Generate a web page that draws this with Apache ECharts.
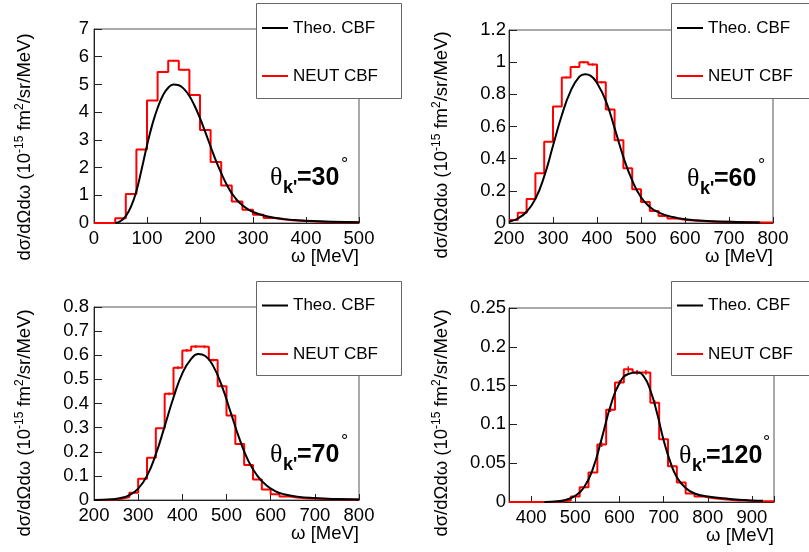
<!DOCTYPE html>
<html><head><meta charset="utf-8">
<script src="https://cdn.jsdelivr.net/npm/echarts@6/dist/echarts.min.js"></script>
<style>html,body{margin:0;padding:0;background:#fff}#c{width:809px;height:552px}</style>
</head><body><div id="c"></div>
<script>
// ---------------- DATA ----------------
const binWidth = 20;
const seriesNames = ['Theo. CBF', 'NEUT CBF'];
const angleLabels = ['30', '60', '70', '120'];

// Panel 1 : theta_k' = 30 deg
const p1BinStart = 0;
const p1Hist = [0, 0, 0.17, 1.05, 2.65, 4.42, 5.45, 5.85, 5.53, 4.62, 3.36, 2.2, 1.35, 0.78, 0.48, 0.3, 0.18, 0.13, 0.09, 0.07, 0.05, 0.04, 0.03, 0.025, 0.02];
const p1Err  = [0, 0, 0, 0, 0, 0, 0.03, 0.03, 0.03, 0.03, 0, 0, 0, 0, 0, 0, 0, 0, 0, 0, 0, 0, 0, 0, 0];
const p1TheoX = [40, 50, 60, 70, 80, 90, 100, 110, 120, 130, 140, 150, 160, 170, 180, 190, 200, 210, 220, 230, 240, 250, 260, 270, 280, 290, 300, 320, 340, 360, 380, 400, 450, 500];
const p1TheoY = [0, 0.07, 0.25, 0.6, 1.15, 1.95, 2.8, 3.55, 4.15, 4.6, 4.88, 5.0, 4.97, 4.83, 4.58, 4.22, 3.78, 3.28, 2.76, 2.25, 1.8, 1.4, 1.07, 0.82, 0.64, 0.5, 0.4, 0.27, 0.19, 0.14, 0.105, 0.08, 0.045, 0.025];

// Panel 2 : theta_k' = 60 deg
const p2BinStart = 200;
const p2Hist = [0.018, 0.063, 0.15, 0.31, 0.505, 0.725, 0.905, 0.97, 1.0, 0.985, 0.875, 0.705, 0.515, 0.34, 0.21, 0.13, 0.075, 0.043, 0.028, 0.02, 0.015, 0.012, 0.01, 0.008, 0.007, 0.006, 0.005, 0.004, 0.003, 0.003];
const p2Err  = [0, 0, 0, 0, 0, 0, 0.006, 0.007, 0.007, 0.007, 0.007, 0.006, 0, 0, 0, 0, 0, 0, 0, 0, 0, 0, 0, 0, 0, 0, 0, 0, 0, 0];
const p2TheoX = [200, 220, 240, 260, 280, 300, 320, 340, 360, 373, 386, 400, 420, 440, 460, 480, 500, 520, 540, 560, 580, 600, 650, 700, 770];
const p2TheoY = [0.008, 0.028, 0.07, 0.15, 0.29, 0.48, 0.67, 0.82, 0.91, 0.925, 0.915, 0.87, 0.76, 0.59, 0.41, 0.265, 0.16, 0.1, 0.066, 0.046, 0.033, 0.024, 0.013, 0.007, 0.003];

// Panel 3 : theta_k' = 70 deg
const p3BinStart = 200;
const p3Hist = [0, 0.001, 0.004, 0.012, 0.03, 0.088, 0.175, 0.297, 0.44, 0.548, 0.62, 0.636, 0.635, 0.58, 0.472, 0.35, 0.232, 0.145, 0.085, 0.044, 0.024, 0.015, 0.01, 0.007, 0.005, 0.004, 0.003, 0.003, 0.002, 0.002];
const p3Err  = [0, 0, 0, 0, 0, 0, 0, 0, 0.006, 0.006, 0.006, 0.006, 0.006, 0.006, 0.006, 0, 0, 0, 0, 0, 0, 0, 0, 0, 0, 0, 0, 0, 0, 0];
const p3TheoX = [200, 240, 260, 280, 300, 320, 340, 360, 380, 400, 420, 436, 452, 470, 490, 510, 530, 550, 570, 590, 610, 630, 660, 700, 750, 800];
const p3TheoY = [0, 0.003, 0.008, 0.02, 0.047, 0.1, 0.19, 0.305, 0.425, 0.525, 0.585, 0.605, 0.597, 0.555, 0.47, 0.36, 0.25, 0.16, 0.1, 0.061, 0.037, 0.024, 0.014, 0.008, 0.004, 0.002];

// Panel 4 : theta_k' = 120 deg
const p4BinStart = 350;
const p4Hist = [0, 0, 0, 0, 0, 0.0005, 0.002, 0.007, 0.019, 0.038, 0.074, 0.119, 0.154, 0.171, 0.167, 0.167, 0.128, 0.081, 0.046, 0.025, 0.011, 0.007, 0.005, 0.004, 0.003, 0.002, 0.002, 0.001, 0.001, 0.001];
const p4Err  = [0, 0, 0, 0, 0, 0, 0, 0, 0, 0, 0.003, 0.003, 0.003, 0.004, 0.003, 0.003, 0.003, 0, 0, 0, 0, 0, 0, 0, 0, 0, 0, 0, 0, 0];
const p4TheoX = [430, 460, 480, 500, 520, 540, 560, 580, 600, 620, 640, 655, 670, 685, 700, 715, 730, 750, 770, 800, 850, 900, 925];
const p4TheoY = [0, 0.001, 0.003, 0.008, 0.019, 0.043, 0.082, 0.124, 0.153, 0.165, 0.167, 0.162, 0.144, 0.115, 0.08, 0.052, 0.032, 0.018, 0.011, 0.007, 0.004, 0.002, 0.0015];

// Axis ranges / ticks
const xMins = [0, 200, 200, 350];
const xMaxs = [500, 800, 800, 950];
const yMaxs = [7, 1.2, 0.8, 0.25];
const yIntervals = [1, 0.2, 0.1, 0.05];

// ---------------- LAYOUT / STYLE ----------------
const SANS = '"Liberation Sans", Arial, Helvetica, sans-serif';
const SERIF = '"Liberation Serif", "Times New Roman", serif';
const panels = [
  {hist: p1Hist, err: p1Err, start: p1BinStart, tx: p1TheoX, ty: p1TheoY,
   grid: {left: 94, top: 29, width: 265, height: 194}, yMargin: 5,
   box: [256.5, 3.5, 145, 95], leg: [262, 18, 28], ytitle: [25, 147], th: [270, 178]},
  {hist: p2Hist, err: p2Err, start: p2BinStart, tx: p2TheoX, ty: p2TheoY,
   grid: {left: 509, top: 30, width: 264, height: 193}, yMargin: 3,
   box: [671.5, 3.5, 145, 95], leg: [677, 18, 28], ytitle: [442, 145], th: [687, 179]},
  {hist: p3Hist, err: p3Err, start: p3BinStart, tx: p3TheoX, ty: p3TheoY,
   grid: {left: 94, top: 307, width: 265, height: 193}, yMargin: 5,
   box: [256.5, 281.5, 145, 94], leg: [262, 295.5, 28.5], ytitle: [25, 423], th: [270, 455]},
  {hist: p4Hist, err: p4Err, start: p4BinStart, tx: p4TheoX, ty: p4TheoY,
   grid: {left: 509, top: 308, width: 265, height: 194}, yMargin: 3,
   box: [671.5, 281.5, 145, 94], leg: [677, 295.5, 28.5], ytitle: [442, 423], th: [679, 456]}
];

function histPoints(start, vals) {
  const d = vals.map((v, i) => [start + i * binWidth, v]);
  d.push([start + vals.length * binWidth, vals[vals.length - 1]]);
  return d;
}
function errPoints(start, vals, errs) {
  return vals.map((v, i) => [start + (i + 0.5) * binWidth, v, errs[i]]).filter(d => d[2] > 0);
}

const grids = [], xAxes = [], yAxes = [], series = [], legends = [], graphics = [];
panels.forEach((p, i) => {
  grids.push(Object.assign({show: true, borderColor: '#555', borderWidth: 1, backgroundColor: 'transparent', containLabel: false}, p.grid));
  const xa = {
    type: 'value', gridIndex: i, min: xMins[i], max: xMaxs[i],
    axisLine: {show: true, onZero: false, lineStyle: {color: '#222', width: 1}},
    axisTick: {show: true, inside: true, length: 6, lineStyle: {color: '#222', width: 1}},
    minorTick: {show: false},
    axisLabel: {show: true, color: '#000', fontSize: 18.5, fontFamily: SANS, margin: 6},
    splitLine: {show: false},
    name: 'ω [MeV]', nameLocation: 'end', nameGap: 0, nameMoveOverlap: false,
    nameTextStyle: {color: '#000', fontSize: 18.5, fontFamily: SANS, align: 'right', verticalAlign: 'top', padding: [24, 0, 0, 0]}
  };
  if (i === 3) {
    xa.splitNumber = 6;
    xa.axisLabel.formatter = v => (Math.round(v) % 100 === 0 ? String(Math.round(v)) : '');
  } else {
    xa.interval = 100;
  }
  xAxes.push(xa);
  yAxes.push({
    type: 'value', gridIndex: i, min: 0, max: yMaxs[i], interval: yIntervals[i],
    axisLine: {show: true, onZero: false, lineStyle: {color: '#222', width: 1}},
    axisTick: {show: true, inside: true, length: 8, lineStyle: {color: '#222', width: 1}},
    axisLabel: {show: true, color: '#000', fontSize: 18.5, fontFamily: SANS, margin: p.yMargin},
    splitLine: {show: false}
  });
  series.push({
    type: 'line', name: seriesNames[1], xAxisIndex: i, yAxisIndex: i, step: 'end',
    data: histPoints(p.start, p.hist), symbol: 'none', showSymbol: false,
    lineStyle: {color: '#ff0000', width: 2}, itemStyle: {color: '#ff0000'}, z: 2
  });
  series.push({
    type: 'custom', name: 'err' + i, xAxisIndex: i, yAxisIndex: i, coordinateSystem: 'cartesian2d',
    data: errPoints(p.start, p.hist, p.err), z: 2,
    renderItem: function (params, api) {
      const x = api.value(0), y = api.value(1), e = api.value(2);
      const a = api.coord([x, y - e]), b = api.coord([x, y + e]);
      return {type: 'line', shape: {x1: a[0], y1: a[1], x2: b[0], y2: b[1]}, style: {stroke: '#ff0000', lineWidth: 1.5}};
    }
  });
  series.push({
    type: 'line', name: seriesNames[0], xAxisIndex: i, yAxisIndex: i,
    data: p.tx.map((x, k) => [x, p.ty[k]]), smooth: 0.5,
    symbol: 'none', showSymbol: false,
    lineStyle: {color: '#000', width: 2}, itemStyle: {color: '#000'}, z: 3
  });
  legends.push({
    orient: 'vertical', left: p.leg[0], top: p.leg[1], itemGap: p.leg[2], padding: 0,
    itemWidth: 26, itemHeight: 2, icon: 'rect', selectedMode: false, z: 20,
    textStyle: {color: '#000', fontSize: 17, lineHeight: 20, fontFamily: SANS},
    data: seriesNames
  });
  // legend box
  graphics.push({type: 'rect', z: 10, shape: {x: p.box[0], y: p.box[1], width: p.box[2], height: p.box[3]},
    style: {fill: '#fff', stroke: '#666', lineWidth: 1}});
  // y axis title
  graphics.push({type: 'text', z: 10, x: p.ytitle[0], y: p.ytitle[1], rotation: Math.PI / 2,
    style: {text: '{m|dσ/dΩdω (10}{s|-15}{m| fm}{s|2}{m|/sr/MeV)}', align: 'center', verticalAlign: 'middle',
      rich: {m: {fontSize: 18.5, fontFamily: SANS, fill: '#000', lineHeight: 22},
             s: {fontSize: 12, fontFamily: SANS, fill: '#000', lineHeight: 12, verticalAlign: 'top'}}}});
  // theta label
  const tx = p.th[0], ty = p.th[1];
  graphics.push({type: 'text', z: 10, x: tx, y: ty, style: {text: 'θ', font: 'normal 26px ' + SERIF, fill: '#000', align: 'left', verticalAlign: 'middle'}});
  graphics.push({type: 'text', z: 10, x: tx + 13, y: ty + 10, style: {text: "k'", font: 'bold 18px ' + SANS, fill: '#000', align: 'left', verticalAlign: 'middle'}});
  graphics.push({type: 'text', z: 10, x: tx + 27, y: ty, style: {text: '=' + angleLabels[i], font: 'bold 25px ' + SANS, fill: '#000', align: 'left', verticalAlign: 'middle'}});
  const degX = tx + 27 + (i === 3 ? 57 : 44);
  graphics.push({type: 'text', z: 10, x: degX, y: ty - 13, style: {text: '°', font: 'normal 18px ' + SANS, fill: '#000', align: 'left', verticalAlign: 'middle'}});
});

const chart = echarts.init(document.getElementById('c'), null, {renderer: 'canvas'});
chart.setOption({
  animation: false,
  backgroundColor: '#fff',
  grid: grids, xAxis: xAxes, yAxis: yAxes, series: series, legend: legends,
  graphic: {elements: graphics},
  tooltip: {show: false}
});
</script>
</body></html>
